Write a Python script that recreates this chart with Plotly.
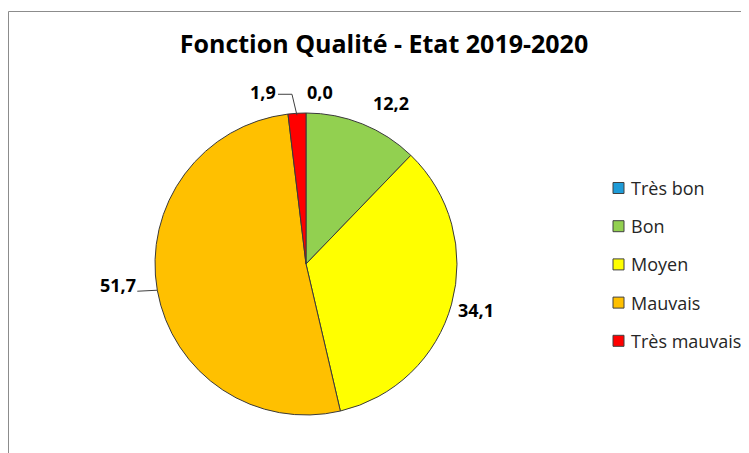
import math
import plotly.graph_objects as go

categories = ["Très bon", "Bon", "Moyen", "Mauvais", "Très mauvais"]
values = [0.0, 12.2, 34.1, 51.7, 1.9]
colors = ["#1E9BD7", "#92D050", "#FFFF00", "#FFC000", "#FF0000"]
title_text = "Fonction Qualité - Etat 2019-2020"

# figure is placed by the page with an 8px body margin
W, H = 741, 445
cx, cy, r = 298, 256, 151

# label placement (pixel offsets from the slice's outer mid-point) and leader style
label_offsets = [(14, -21), (28, -21), (24, 6), (-39, -5), (-34, -21)]
leader = [None, None, None, "straight", "elbow"]


def px(x):
    return x / W


def py(y):
    return 1 - y / H


fig = go.Figure()
fig.add_trace(go.Pie(
    labels=categories,
    values=values,
    sort=False,
    direction="clockwise",
    rotation=0,
    marker=dict(colors=colors, line=dict(color="#3a3a3a", width=1)),
    textinfo="none",
    showlegend=False,
    domain=dict(x=[px(cx - r), px(cx + r)], y=[py(cy + r), py(cy - r)]),
    hoverinfo="label+value",
))

shapes = [dict(type="rect", xref="paper", yref="paper",
               x0=px(0.5), x1=1.02, y0=-0.02, y1=py(3.5),
               line=dict(color="#8c8c8c", width=1), fillcolor="rgba(0,0,0,0)")]
annotations = []

total = sum(values)
cum = 0.0
for v, (dx, dy), ld in zip(values, label_offsets, leader):
    mid = (cum + v / 2) / total
    cum += v
    th = 2 * math.pi * mid
    ex, ey = cx + r * math.sin(th), cy - r * math.cos(th)
    lx, ly = ex + dx, ey + dy
    txt = f"{v:.1f}".replace(".", ",")
    annotations.append(dict(xref="paper", yref="paper", x=px(lx), y=py(ly),
                            xanchor="center", yanchor="middle", showarrow=False, text=txt,
                            font=dict(family="Open Sans", size=18, color="#000000", weight="bold")))
    if ld == "straight":
        x0 = lx + 19
        path = f"M {px(x0)} {py(ly + 6)} L {px(ex)} {py(ey)}"
        shapes.append(dict(type="path", xref="paper", yref="paper", path=path,
                           line=dict(color="#404040", width=1)))
    elif ld == "elbow":
        x0 = lx + 15
        path = (f"M {px(x0)} {py(ly + 2)} L {px(ex - 5)} {py(ly + 2)} "
                f"L {px(ex)} {py(ey + 2)}")
        shapes.append(dict(type="path", xref="paper", yref="paper", path=path,
                           line=dict(color="#404040", width=1)))

leg_x, leg_y0, leg_dy, sq = 605, 180, 38.2, 11
for i, (lab, col) in enumerate(zip(categories, colors)):
    yc = leg_y0 + i * leg_dy
    shapes.append(dict(type="rect", xref="paper", yref="paper",
                       x0=px(leg_x), x1=px(leg_x + sq),
                       y0=py(yc + sq / 2), y1=py(yc - sq / 2),
                       fillcolor=col, line=dict(color="#404040", width=1)))
    annotations.append(dict(xref="paper", yref="paper", x=px(leg_x + sq + 5), y=py(yc),
                            xanchor="left", yanchor="middle", showarrow=False, text=lab,
                            font=dict(family="Open Sans", size=18, color="#262626")))

fig.update_layout(
    width=W, height=H,
    margin=dict(l=0, r=0, t=0, b=0),
    paper_bgcolor="white",
    separators=", ",
    title=dict(text=title_text, x=px(376), xanchor="center", y=py(36), yanchor="middle",
               font=dict(family="Open Sans", size=25, color="#000000", weight="bold")),
    shapes=shapes,
    annotations=annotations,
)

fig.write_html("out.html")
